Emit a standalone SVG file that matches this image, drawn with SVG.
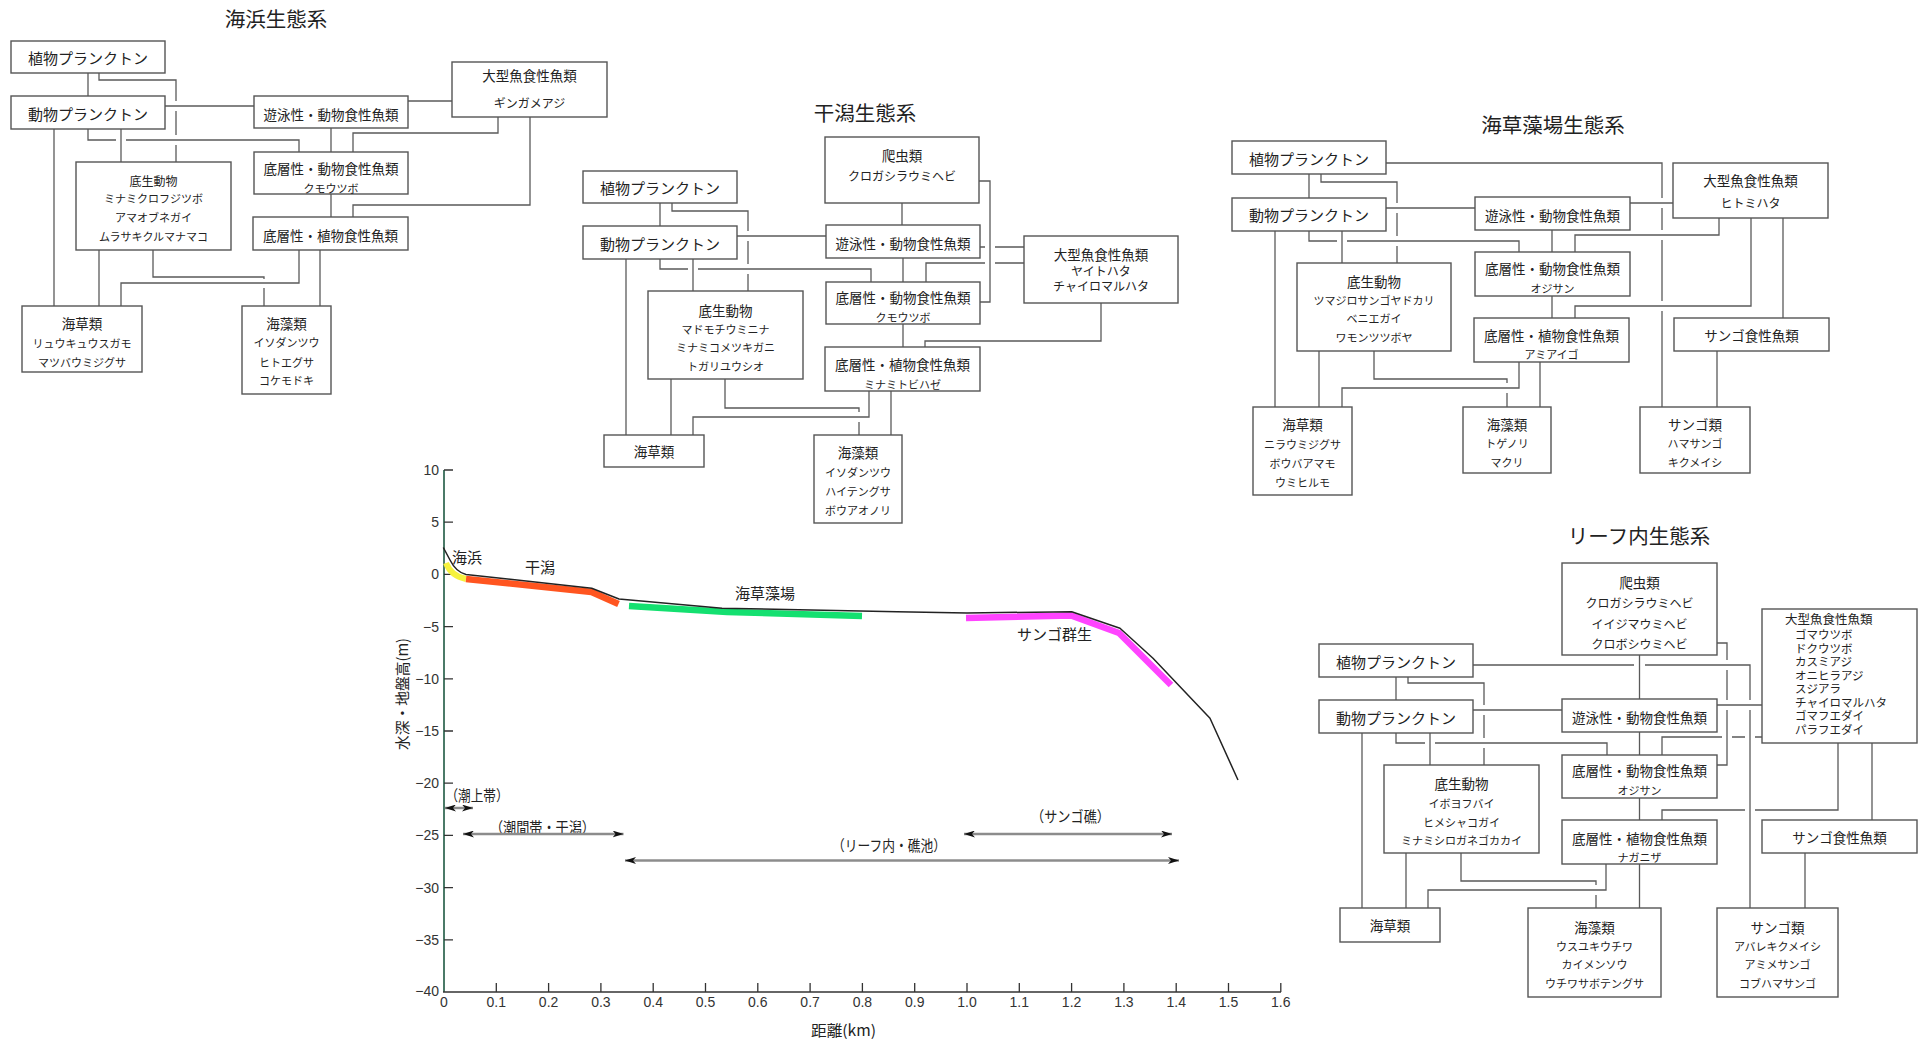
<svg xmlns="http://www.w3.org/2000/svg" width="1925" height="1040" viewBox="0 0 1925 1040">
<style>
text{font-family:"Noto Sans CJK JP","Noto Sans CJK SC",sans-serif;fill:#222;text-anchor:middle;dominant-baseline:central}
.box{fill:#fff;stroke:#555;stroke-width:1.4}
.c{fill:none;stroke:#5a5a5a;stroke-width:1.3}
.t{font-size:20.5px}
.p{font-size:15px}
.h{font-size:13.5px}
.m{font-size:12px}
.s{font-size:11px}
.lab{font-size:15px}
.num{font-family:"Liberation Sans",Arial,sans-serif;font-size:14px;fill:#333}
.yl{text-anchor:end}
.ax{stroke:#333;stroke-width:1.5;fill:none}
.tk{stroke:#333;stroke-width:1.3}
.rng{stroke:#8c8c8c;stroke-width:2.5;marker-start:url(#ah);marker-end:url(#ah)}
.big text{text-anchor:start}
</style>
<defs>
<marker id="ah" markerUnits="userSpaceOnUse" markerWidth="12" markerHeight="7" refX="11" refY="3.5" orient="auto-start-reverse">
<path d="M0,0 L11,3.5 L0,7 L3,3.5 z" fill="#111"/>
</marker>
</defs>

<!-- Titles -->
<text class="t" x="276" y="18">海浜生態系</text>
<text class="t" x="865" y="112">干潟生態系</text>
<text class="t" x="1553" y="124">海草藻場生態系</text>
<text class="t" x="1639" y="535">リーフ内生態系</text>

<!-- Connectors -->
<g id="connectors">
<!-- 海浜 -->
<path class="c" d="M88,73 V96"/>
<path class="c" d="M99,73 V80 H176 V101 M176,111 V135 M176,145 V162"/>
<path class="c" d="M165,106 H254"/>
<path class="c" d="M408,101 H452"/>
<path class="c" d="M88,129 V140 H116 M126,140 H299 V152"/>
<path class="c" d="M121,129 V162"/>
<path class="c" d="M331,128 V152"/>
<path class="c" d="M498,117 V133 H353 V152"/>
<path class="c" d="M530,117 V205 H353 V217"/>
<path class="c" d="M331,194 V217"/>
<path class="c" d="M54,129 V306"/>
<path class="c" d="M99,250 V306"/>
<path class="c" d="M153,250 V277 H264 V279 M264,288 V306"/>
<path class="c" d="M299,250 V283 H121 V306"/>
<path class="c" d="M320,250 V306"/>
<!-- 干潟 -->
<path class="c" d="M660,203 V226"/>
<path class="c" d="M672,203 V211 H748 V231 M748,241 V264 M748,274 V291"/>
<path class="c" d="M737,236 H826"/>
<path class="c" d="M902,203 V225"/>
<path class="c" d="M979,181 H990 V302 H980"/>
<path class="c" d="M980,247 H985 M995,247 H1024"/>
<path class="c" d="M1024,263 H995 M985,263 H926 V282"/>
<path class="c" d="M903,258 V282"/>
<path class="c" d="M660,259 V269 H688 M698,269 H871 V282"/>
<path class="c" d="M693,259 V291"/>
<path class="c" d="M626,259 V435"/>
<path class="c" d="M903,324 V347"/>
<path class="c" d="M1101,303 V341 H925 V347"/>
<path class="c" d="M671,379 V435"/>
<path class="c" d="M725,379 V408 H859 V412 M859,422 V435"/>
<path class="c" d="M869,391 V417 H693 V435"/>
<path class="c" d="M891,391 V435"/>
<!-- 海草藻場 -->
<path class="c" d="M1309,174 V198"/>
<path class="c" d="M1321,174 V182 H1397 V203 M1397,213 V236 M1397,246 V263"/>
<path class="c" d="M1386,163 H1662 V198 M1662,208 V230 M1662,240 V301 M1662,311 V407"/>
<path class="c" d="M1386,208 H1475"/>
<path class="c" d="M1630,203 H1673"/>
<path class="c" d="M1309,231 V241 H1337 M1347,241 H1519 V252"/>
<path class="c" d="M1342,231 V263"/>
<path class="c" d="M1275,231 V407"/>
<path class="c" d="M1552,230 V252"/>
<path class="c" d="M1719,218 V235 H1575 V252"/>
<path class="c" d="M1751,218 V306 H1575 V318"/>
<path class="c" d="M1783,218 V318"/>
<path class="c" d="M1552,296 V318"/>
<path class="c" d="M1319,351 V407"/>
<path class="c" d="M1374,351 V379 H1507 V383 M1507,393 V407"/>
<path class="c" d="M1519,362 V388 H1342 V407"/>
<path class="c" d="M1540,362 V407"/>
<path class="c" d="M1717,351 V407"/>
<!-- リーフ内 -->
<path class="c" d="M1396,677 V700"/>
<path class="c" d="M1408,677 V683 H1484 V705 M1484,715 V738 M1484,748 V765"/>
<path class="c" d="M1473,665 H1634 M1645,665 H1750 V700 M1750,710 V908"/>
<path class="c" d="M1473,710 H1562"/>
<path class="c" d="M1717,705 H1762"/>
<path class="c" d="M1717,643 H1727 V660 M1727,670 V700 M1727,710 V765 H1717"/>
<path class="c" d="M1639.5,655 V699"/>
<path class="c" d="M1396,733 V743 H1425 M1435,743 H1607 V755"/>
<path class="c" d="M1430,733 V765"/>
<path class="c" d="M1362,733 V908"/>
<path class="c" d="M1639.5,732 V755"/>
<path class="c" d="M1762,737 H1755 M1745,737 H1732 M1722,737 H1662 V755"/>
<path class="c" d="M1838,743 V810 H1755 M1745,810 H1662 V820"/>
<path class="c" d="M1872,743 V820"/>
<path class="c" d="M1639.5,798 V820"/>
<path class="c" d="M1406,853 V908"/>
<path class="c" d="M1461,853 V881 H1596 V885 M1596,895 V908"/>
<path class="c" d="M1606,864 V890 H1428 V908"/>
<path class="c" d="M1639.5,864 V908"/>
<path class="c" d="M1805,853 V908"/>
</g>

<!-- 海浜 nodes -->
<g id="a-phyto"><rect class="box" x="11" y="41" width="154" height="32"/><text class="p" x="88" y="57.5">植物プランクトン</text></g>
<g id="a-zoo"><rect class="box" x="11" y="96" width="154" height="33"/><text class="p" x="88" y="113">動物プランクトン</text></g>
<g id="a-swim"><rect class="box" x="254" y="96" width="154" height="32"/><text class="h" x="331" y="113.5">遊泳性・動物食性魚類</text></g>
<g id="a-big"><rect class="box" x="452" y="62" width="155" height="55"/><text class="h" x="529.5" y="75">大型魚食性魚類</text><text class="m" x="529.5" y="102">ギンガメアジ</text></g>
<g id="a-bfish"><rect class="box" x="254" y="152" width="154" height="42"/><text class="h" x="331" y="168">底層性・動物食性魚類</text><text class="s" x="331" y="188">クモウツボ</text></g>
<g id="a-hfish"><rect class="box" x="253" y="217" width="155" height="33"/><text class="h" x="330.5" y="234.5">底層性・植物食性魚類</text></g>
<g id="a-benthos"><rect class="box" x="76" y="162" width="155" height="88"/><text class="m" x="153.5" y="180">底生動物</text><text class="s" x="153.5" y="198">ミナミクロフジツボ</text><text class="s" x="153.5" y="217">アマオブネガイ</text><text class="s" x="153.5" y="236">ムラサキクルマナマコ</text></g>
<g id="a-seagrass"><rect class="box" x="22" y="306" width="120" height="66"/><text class="h" x="82" y="323">海草類</text><text class="s" x="82" y="343">リュウキュウスガモ</text><text class="s" x="82" y="362">マツバウミジグサ</text></g>
<g id="a-seaweed"><rect class="box" x="242" y="306" width="89" height="88"/><text class="h" x="286.5" y="323">海藻類</text><text class="s" x="286.5" y="342">イソダンツウ</text><text class="s" x="286.5" y="362">ヒトエグサ</text><text class="s" x="286.5" y="380">コケモドキ</text></g>

<!-- 干潟 nodes -->
<g id="b-rept"><rect class="box" x="825" y="137" width="154" height="66"/><text class="h" x="902" y="155">爬虫類</text><text class="m" x="902" y="175">クロガシラウミヘビ</text></g>
<g id="b-phyto"><rect class="box" x="583" y="171" width="154" height="32"/><text class="p" x="660" y="187.5">植物プランクトン</text></g>
<g id="b-zoo"><rect class="box" x="583" y="226" width="154" height="33"/><text class="p" x="660" y="243">動物プランクトン</text></g>
<g id="b-swim"><rect class="box" x="826" y="225" width="154" height="33"/><text class="h" x="903" y="242.5">遊泳性・動物食性魚類</text></g>
<g id="b-big"><rect class="box" x="1024" y="236" width="154" height="67"/><text class="h" x="1101" y="254">大型魚食性魚類</text><text class="m" x="1101" y="270">ヤイトハタ</text><text class="m" x="1101" y="285">チャイロマルハタ</text></g>
<g id="b-bfish"><rect class="box" x="826" y="282" width="154" height="42"/><text class="h" x="903" y="297">底層性・動物食性魚類</text><text class="s" x="903" y="317">クモウツボ</text></g>
<g id="b-benthos"><rect class="box" x="648" y="291" width="155" height="88"/><text class="h" x="725.5" y="310">底生動物</text><text class="s" x="725.5" y="329">マドモチウミニナ</text><text class="s" x="725.5" y="347">ミナミコメツキガニ</text><text class="s" x="725.5" y="366">トガリユウシオ</text></g>
<g id="b-hfish"><rect class="box" x="825" y="347" width="155" height="44"/><text class="h" x="902.5" y="364">底層性・植物食性魚類</text><text class="s" x="902.5" y="384">ミナミトビハゼ</text></g>
<g id="b-seagrass"><rect class="box" x="604" y="435" width="100" height="32"/><text class="h" x="654" y="451">海草類</text></g>
<g id="b-seaweed"><rect class="box" x="814" y="435" width="88" height="88"/><text class="h" x="858" y="452">海藻類</text><text class="s" x="858" y="472">イソダンツウ</text><text class="s" x="858" y="491">ハイテングサ</text><text class="s" x="858" y="510">ボウアオノリ</text></g>

<!-- 海草藻場 nodes -->
<g id="c-phyto"><rect class="box" x="1232" y="141" width="154" height="33"/><text class="p" x="1309" y="158">植物プランクトン</text></g>
<g id="c-zoo"><rect class="box" x="1232" y="198" width="154" height="33"/><text class="p" x="1309" y="214">動物プランクトン</text></g>
<g id="c-swim"><rect class="box" x="1475" y="197" width="155" height="33"/><text class="h" x="1552.5" y="214.5">遊泳性・動物食性魚類</text></g>
<g id="c-big"><rect class="box" x="1673" y="163" width="155" height="55"/><text class="h" x="1750.5" y="180">大型魚食性魚類</text><text class="m" x="1750.5" y="202">ヒトミハタ</text></g>
<g id="c-bfish"><rect class="box" x="1475" y="252" width="155" height="44"/><text class="h" x="1552.5" y="268">底層性・動物食性魚類</text><text class="s" x="1552.5" y="288">オジサン</text></g>
<g id="c-benthos"><rect class="box" x="1297" y="263" width="154" height="88"/><text class="h" x="1374" y="281">底生動物</text><text class="s" x="1374" y="300">ツマジロサンゴヤドカリ</text><text class="s" x="1374" y="318">ベニエガイ</text><text class="s" x="1374" y="337">ワモンツツボヤ</text></g>
<g id="c-hfish"><rect class="box" x="1474" y="318" width="155" height="44"/><text class="h" x="1551.5" y="335">底層性・植物食性魚類</text><text class="s" x="1551.5" y="354">アミアイゴ</text></g>
<g id="c-coralF"><rect class="box" x="1674" y="318" width="155" height="33"/><text class="h" x="1751.5" y="335">サンゴ食性魚類</text></g>
<g id="c-seagrass"><rect class="box" x="1253" y="407" width="99" height="88"/><text class="h" x="1302.5" y="424">海草類</text><text class="s" x="1302.5" y="444">ニラウミジグサ</text><text class="s" x="1302.5" y="463">ボウバアマモ</text><text class="s" x="1302.5" y="482">ウミヒルモ</text></g>
<g id="c-seaweed"><rect class="box" x="1463" y="407" width="88" height="66"/><text class="h" x="1507" y="424">海藻類</text><text class="s" x="1507" y="443">トゲノリ</text><text class="s" x="1507" y="462">マクリ</text></g>
<g id="c-coral"><rect class="box" x="1640" y="407" width="110" height="66"/><text class="h" x="1695" y="424">サンゴ類</text><text class="s" x="1695" y="443">ハマサンゴ</text><text class="s" x="1695" y="462">キクメイシ</text></g>

<!-- リーフ内 nodes -->
<g id="d-rept"><rect class="box" x="1562" y="563" width="155" height="92"/><text class="h" x="1639.5" y="582">爬虫類</text><text class="m" x="1639.5" y="602">クロガシラウミヘビ</text><text class="m" x="1639.5" y="623">イイジマウミヘビ</text><text class="m" x="1639.5" y="643">クロボシウミヘビ</text></g>
<g id="d-phyto"><rect class="box" x="1319" y="644" width="154" height="33"/><text class="p" x="1396" y="661">植物プランクトン</text></g>
<g id="d-zoo"><rect class="box" x="1319" y="700" width="154" height="33"/><text class="p" x="1396" y="717">動物プランクトン</text></g>
<g id="d-swim"><rect class="box" x="1562" y="699" width="155" height="33"/><text class="h" x="1639.5" y="716.5">遊泳性・動物食性魚類</text></g>
<g id="d-big" class="big"><rect class="box" x="1762" y="609" width="155" height="134"/><text x="1785" y="618.5" font-size="12.5px">大型魚食性魚類</text><text x="1795" y="634" font-size="11.5px">ゴマウツボ</text><text x="1795" y="647.5" font-size="11.5px">ドクウツボ</text><text x="1795" y="661" font-size="11.5px">カスミアジ</text><text x="1795" y="674.5" font-size="11.5px">オニヒラアジ</text><text x="1795" y="688" font-size="11.5px">スジアラ</text><text x="1795" y="701.5" font-size="11.5px">チャイロマルハタ</text><text x="1795" y="715" font-size="11.5px">ゴマフエダイ</text><text x="1795" y="728.5" font-size="11.5px">パラフエダイ</text></g>
<g id="d-bfish"><rect class="box" x="1562" y="755" width="155" height="43"/><text class="h" x="1639.5" y="770">底層性・動物食性魚類</text><text class="s" x="1639.5" y="790">オジサン</text></g>
<g id="d-benthos"><rect class="box" x="1384" y="765" width="155" height="88"/><text class="h" x="1461.5" y="783">底生動物</text><text class="s" x="1461.5" y="803">イボヨフバイ</text><text class="s" x="1461.5" y="822">ヒメシャコガイ</text><text class="s" x="1461.5" y="840">ミナミシロガネゴカカイ</text></g>
<g id="d-hfish"><rect class="box" x="1562" y="820" width="155" height="44"/><text class="h" x="1639.5" y="838">底層性・植物食性魚類</text><text class="s" x="1639.5" y="857">ナガニザ</text></g>
<g id="d-coralF"><rect class="box" x="1762" y="820" width="155" height="33"/><text class="h" x="1839.5" y="837">サンゴ食性魚類</text></g>
<g id="d-seagrass"><rect class="box" x="1340" y="908" width="100" height="34"/><text class="h" x="1390" y="925">海草類</text></g>
<g id="d-seaweed"><rect class="box" x="1528" y="908" width="133" height="89"/><text class="h" x="1594.5" y="927">海藻類</text><text class="s" x="1594.5" y="946">ウスユキウチワ</text><text class="s" x="1594.5" y="964">カイメンソウ</text><text class="s" x="1594.5" y="983">ウチワサボテングサ</text></g>
<g id="d-coral"><rect class="box" x="1717" y="908" width="121" height="89"/><text class="h" x="1777.5" y="927">サンゴ類</text><text class="s" x="1777.5" y="946">アバレキクメイシ</text><text class="s" x="1777.5" y="964">アミメサンゴ</text><text class="s" x="1777.5" y="983">コブハマサンゴ</text></g>

<!-- Profile chart -->
<g id="chart">
<path d="M444,470 V992" stroke="#4b7a68" stroke-width="2" fill="none"/>
<path class="ax" d="M443,992 H1281"/>
<g class="tk">
<path d="M444,470 H453 M444,522.2 H453 M444,574.4 H453 M444,626.6 H453 M444,678.8 H453 M444,731 H453 M444,783.2 H453 M444,835.4 H453 M444,887.6 H453 M444,939.8 H453"/>
<path d="M496.3,992 V983 M548.6,992 V983 M600.9,992 V983 M653.2,992 V983 M705.5,992 V983 M757.8,992 V983 M810.1,992 V983 M862.4,992 V983 M914.7,992 V983 M967,992 V983 M1019.3,992 V983 M1071.6,992 V983 M1123.9,992 V983 M1176.2,992 V983 M1228.5,992 V983 M1280.8,992 V983"/>
</g>
<g>
<text class="num yl" x="439" y="470">10</text>
<text class="num yl" x="439" y="522.2">5</text>
<text class="num yl" x="439" y="574.4">0</text>
<text class="num yl" x="439" y="626.6">−5</text>
<text class="num yl" x="439" y="678.8">−10</text>
<text class="num yl" x="439" y="731">−15</text>
<text class="num yl" x="439" y="783.2">−20</text>
<text class="num yl" x="439" y="835.4">−25</text>
<text class="num yl" x="439" y="887.6">−30</text>
<text class="num yl" x="439" y="939.8">−35</text>
<text class="num yl" x="439" y="991">−40</text>
</g>
<g>
<text class="num" x="444" y="1002">0</text>
<text class="num" x="496.3" y="1002">0.1</text>
<text class="num" x="548.6" y="1002">0.2</text>
<text class="num" x="600.9" y="1002">0.3</text>
<text class="num" x="653.2" y="1002">0.4</text>
<text class="num" x="705.5" y="1002">0.5</text>
<text class="num" x="757.8" y="1002">0.6</text>
<text class="num" x="810.1" y="1002">0.7</text>
<text class="num" x="862.4" y="1002">0.8</text>
<text class="num" x="914.7" y="1002">0.9</text>
<text class="num" x="967" y="1002">1.0</text>
<text class="num" x="1019.3" y="1002">1.1</text>
<text class="num" x="1071.6" y="1002">1.2</text>
<text class="num" x="1123.9" y="1002">1.3</text>
<text class="num" x="1176.2" y="1002">1.4</text>
<text class="num" x="1228.5" y="1002">1.5</text>
<text class="num" x="1280.8" y="1002">1.6</text>
</g>
<text class="lab" x="843.5" y="1029" textLength="65" lengthAdjust="spacingAndGlyphs">距離(km)</text>
<text class="lab" transform="translate(401,694) rotate(-90)" x="0" y="0" textLength="112" lengthAdjust="spacingAndGlyphs">水深・地盤高(m)</text>

<!-- habitat bands -->
<path d="M446,563 Q451,576 466,579" stroke="#f6f23c" stroke-width="6" fill="none"/>
<path d="M466,579 L591.5,592 L618.5,604" stroke="#ff5520" stroke-width="6.5" fill="none"/>
<path d="M629,606 L727,612 L862,616" stroke="#14e070" stroke-width="6.5" fill="none"/>
<path d="M966,618 L1071,615.5 L1119,633 L1171,685" stroke="#ff44ff" stroke-width="6.5" fill="none"/>
<path d="M443.3,547.5 L450,560 Q456,572 466,574.5 L591.7,588.3 L619,599 L722,608.3 L897,611.7 L967,613 L1071.7,611.7 L1120,628.3 L1153,658.3 L1210,718.3 L1238,780" stroke="#222" stroke-width="1.5" fill="none" stroke-linejoin="round"/>

<text class="lab" x="467" y="556">海浜</text>
<text class="lab" x="540" y="566">干潟</text>
<text class="lab" x="765" y="592">海草藻場</text>
<text class="lab" x="1054.5" y="633.5">サンゴ群生</text>

<!-- range arrows -->
<text class="lab" x="477" y="794" font-size="14" textLength="63" lengthAdjust="spacingAndGlyphs">（潮上帯）</text>
<path class="rng" d="M445,808 H473"/>
<text class="lab" x="542.5" y="826" textLength="105" lengthAdjust="spacingAndGlyphs">（潮間帯・干潟）</text>
<path class="rng" d="M463,834 H623.5"/>
<text class="lab" x="1070.5" y="815.5" textLength="79" lengthAdjust="spacingAndGlyphs">（サンゴ礁）</text>
<path class="rng" d="M964,834 H1172"/>
<text class="lab" x="889" y="844" textLength="114" lengthAdjust="spacingAndGlyphs">（リーフ内・礁池）</text>
<path class="rng" d="M625,860.5 H1179"/>
</g>
</svg>
